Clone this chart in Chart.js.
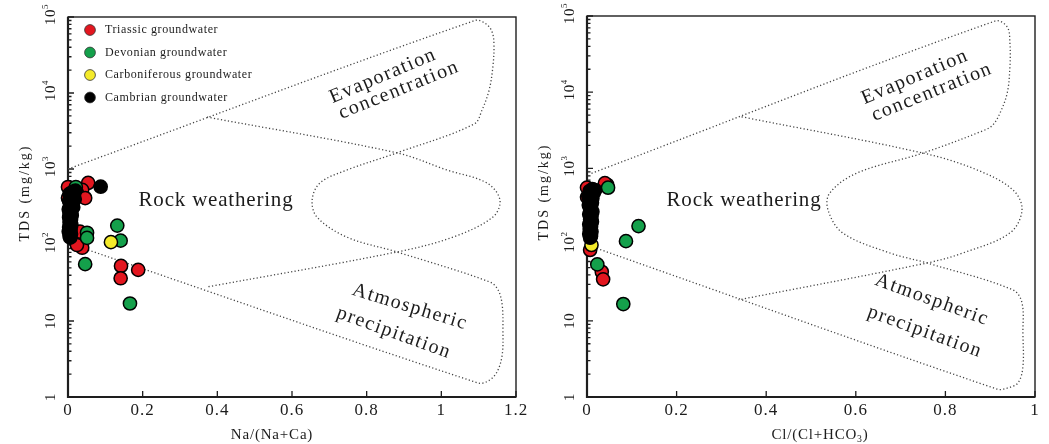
<!DOCTYPE html>
<html>
<head>
<meta charset="utf-8">
<script src="https://cdn.jsdelivr.net/npm/chart.js@4.4.0/dist/chart.umd.min.js"></script>
<style>
  html, body { margin: 0; padding: 0; background: #fff; }
  #wrap { position: relative; width: 1049px; height: 444px; }
  #wrap canvas { position: absolute; left: 0; top: 0; }
</style>
</head>
<body>
<div id="wrap">
  <canvas id="naChart" width="1049" height="444"></canvas>
  <canvas id="clChart" width="1049" height="444"></canvas>
</div>
<script>
// Series names and colours
const legendNames = ['Triassic groundwater', 'Devonian groundwater', 'Carboniferous groundwater', 'Cambrian groundwater'];
const seriesColors = ['#e3161f', '#14a04b', '#f4ea2a', '#000000'];

// Left panel: [Na/(Na+Ca), TDS mg/kg]
const triassicNa = [[0.054, 655], [0.038, 530], [0.0, 580], [0.024, 483], [0.046, 415], [0.0, 415],
  [0.032, 150], [0.038, 92], [0.024, 100], [0.142, 53], [0.141, 36.5], [0.188, 47]];
const devonianNa = [[0.021, 580], [0.051, 145], [0.051, 124], [0.046, 56], [0.132, 180], [0.141, 114], [0.166, 17]];
const carboniferousNa = [[0.115, 109]];
const cambrianNa = [[0.0875, 585], [0.02, 520], [0.012, 500], [0.004, 470], [0.016, 450], [0.008, 420], [0.018, 400],
  [0.003, 380], [0.012, 360], [0.006, 335], [0.014, 315], [0.002, 295], [0.009, 280], [0.004, 260], [0.01, 245],
  [0.003, 230], [0.008, 215], [0.004, 200], [0.009, 185], [0.003, 172], [0.007, 160], [0.002, 150], [0.008, 140],
  [0.004, 132], [0.006, 125]];

// Right panel: [Cl/(Cl+HCO3), TDS mg/kg]
const triassicCl = [[0.045, 610], [0.04, 640], [0.0, 420], [0.0, 560], [0.007, 85], [0.033, 44], [0.036, 35]];
const devonianCl = [[0.047, 558], [0.115, 175], [0.087, 111], [0.023, 55], [0.081, 16.6]];
const carboniferousCl = [[0.01, 99]];
const cambrianCl = [[0.012, 535], [0.018, 520], [0.006, 505], [0.015, 480], [0.009, 455], [0.003, 430], [0.012, 405],
  [0.006, 380], [0.011, 355], [0.004, 330], [0.009, 310], [0.007, 290], [0.012, 270], [0.005, 250], [0.01, 232],
  [0.007, 215], [0.011, 200], [0.005, 185], [0.009, 172], [0.006, 160], [0.01, 148], [0.005, 138], [0.009, 130],
  [0.007, 123]];

// Gibbs boomerang boundaries (dotted)
const naOuterLine = [[0, 1000], [1.090, 90000], [1.120, 80900], [1.136, 63500], [1.141, 42900], [1.138, 22000],
  [1.128, 10900], [1.109, 5970], [1.088, 3910], [0.881, 1630], [0.747, 970], [0.675, 655], [0.654, 391],
  [0.667, 233], [0.747, 127], [0.881, 81], [1.130, 32.6], [1.152, 25.6], [1.163, 16.3], [1.165, 7.6],
  [1.163, 3.57], [1.149, 2.13], [1.125, 1.62], [1.098, 1.53], [0, 106]];
const naInnerLine = [[0.372, 4830], [0.881, 1630], [1.015, 970], [1.122, 655], [1.157, 391], [1.138, 233],
  [1.031, 127], [0.881, 81], [0.372, 28]];
const clOuterLine = [[0.01, 860], [0.911, 86000], [0.938, 71800], [0.944, 44200], [0.944, 21400], [0.938, 9770],
  [0.922, 5340], [0.906, 3720], [0.888, 3190], [0.750, 1590], [0.603, 871], [0.542, 476], [0.538, 284],
  [0.571, 142], [0.676, 77.6], [0.759, 57.4], [0.951, 25.4], [0.971, 17.1], [0.973, 6.9], [0.973, 2.48],
  [0.962, 1.53], [0.938, 1.31], [0.915, 1.27], [0.02, 90]];
const clInnerLine = [[0.345, 4760], [0.750, 1590], [0.871, 953], [0.951, 521], [0.971, 284], [0.944, 142],
  [0.839, 77.6], [0.759, 57.4], [0.338, 18.8]];

// Axis ticks
const xTicksNa = [0, 0.2, 0.4, 0.6, 0.8, 1, 1.2];
const xTicksCl = [0, 0.2, 0.4, 0.6, 0.8, 1];
const tdsTicks = [1, 10, 100, 1000, 10000, 100000];
const tdsTickLabels = [['1', ''], ['10', ''], ['10', '2'], ['10', '3'], ['10', '4'], ['10', '5']];

// Axis titles ([text, is subscript])
const naTitle = [['Na/(Na+Ca)', false]];
const clTitle = [['Cl/(Cl+HCO', false], ['3', true], [')', false]];
const tdsTitle = 'TDS (mg/kg)';

const FONT = '"Liberation Serif", "Times New Roman", serif';
const INK = '#1c1c1c';

function toPoints(arr) {
    return arr.map(p => ({ x: p[0], y: p[1] }));
}

function drawText(ctx, text, x, y, size, angle, spacing, align) {
    ctx.save();
    ctx.translate(x, y);
    ctx.rotate((angle || 0) * Math.PI / 180);
    ctx.font = size + 'px ' + FONT;
    ctx.letterSpacing = (spacing || 0) + 'px';
    ctx.fillStyle = INK;
    ctx.textAlign = align || 'center';
    ctx.textBaseline = 'middle';
    ctx.fillText(text, 0, 0);
    ctx.restore();
}

// Draw text made of normal + subscript parts, centred on cx
function drawSubText(ctx, parts, cx, cy, size, spacing) {
    ctx.save();
    ctx.fillStyle = INK;
    ctx.textBaseline = 'middle';
    ctx.letterSpacing = spacing + 'px';
    let total = 0;
    parts.forEach(p => {
        ctx.font = (p[1] ? size * 0.65 : size) + 'px ' + FONT;
        total += ctx.measureText(p[0]).width;
    });
    let x = cx - total / 2;
    parts.forEach(p => {
        ctx.font = (p[1] ? size * 0.65 : size) + 'px ' + FONT;
        ctx.fillText(p[0], x, p[1] ? cy + 4 : cy);
        x += ctx.measureText(p[0]).width;
    });
    ctx.restore();
}

// Rotated y tick label like 10^3
function drawPowerLabel(ctx, x, y, base, exp) {
    ctx.save();
    ctx.translate(x, y);
    ctx.rotate(-Math.PI / 2);
    ctx.fillStyle = INK;
    ctx.textBaseline = 'alphabetic';
    ctx.font = '15px ' + FONT;
    ctx.letterSpacing = '0.5px';
    const w = ctx.measureText(base).width;
    ctx.fillText(base, -w / 2, 0);
    if (exp) {
        ctx.font = '9px ' + FONT;
        ctx.fillText(exp, w / 2, -7);
    }
    ctx.restore();
}

const gibbsFrame = {
    id: 'gibbsFrame',
    beforeDatasetsDraw(chart, args, opts) {
        const { ctx, chartArea: a, scales: { x, y } } = chart;
        ctx.save();
        ctx.strokeStyle = '#1e1e1e';

        // box
        ctx.lineWidth = 1.4;
        ctx.strokeRect(a.left, a.top, a.right - a.left, a.bottom - a.top);
        ctx.lineWidth = 2.2;
        ctx.beginPath();
        ctx.moveTo(a.left, a.top);
        ctx.lineTo(a.left, a.bottom);
        ctx.lineTo(a.right, a.bottom);
        ctx.stroke();

        // y ticks (log, inside)
        ctx.lineWidth = 1.3;
        ctx.beginPath();
        tdsTicks.forEach(t => {
            const py = y.getPixelForValue(t);
            ctx.moveTo(a.left, py);
            ctx.lineTo(a.left + 6, py);
        });
        for (let k = 0; k < 5; k++) {
            for (let m = 2; m <= 9; m++) {
                const py = y.getPixelForValue(m * Math.pow(10, k));
                ctx.moveTo(a.left, py);
                ctx.lineTo(a.left + 3.5, py);
            }
        }
        // x ticks (inside)
        opts.xTicks.forEach(t => {
            const px = x.getPixelForValue(t);
            ctx.moveTo(px, a.bottom);
            ctx.lineTo(px, a.bottom - 6);
        });
        ctx.stroke();
        ctx.restore();

        // tick labels
        opts.xTicks.forEach(t => {
            drawText(ctx, String(t), x.getPixelForValue(t), a.bottom + 14, 17, 0, 1);
        });
        tdsTicks.forEach((t, i) => {
            drawPowerLabel(ctx, a.left - 13, y.getPixelForValue(t), tdsTickLabels[i][0], tdsTickLabels[i][1]);
        });

        // axis titles
        drawText(ctx, tdsTitle, a.left - 43, a.top + 176, 14, -90, 2);
        drawSubText(ctx, opts.xTitle, opts.xTitleX, a.bottom + 38, 15, 0.8);

        // region names
        opts.regions.forEach(r => {
            drawText(ctx, r[0], a.left + r[1], a.top + r[2], r[4], r[3], r[5]);
        });
    },
    afterDatasetsDraw(chart, args, opts) {
        if (!opts.legend) return;
        const { ctx, chartArea: a } = chart;
        legendNames.forEach((name, i) => {
            const cy = a.top + 13 + i * 22.5;
            ctx.save();
            ctx.beginPath();
            ctx.arc(a.left + 22, cy, 5.4, 0, Math.PI * 2);
            ctx.fillStyle = seriesColors[i];
            ctx.fill();
            ctx.lineWidth = 0.8;
            ctx.strokeStyle = '#333';
            ctx.stroke();
            ctx.restore();
            drawText(ctx, name, a.left + 37, cy, 12, 0, 0.6, 'left');
        });
    }
};

function scatterSet(points, i) {
    return {
        type: 'scatter',
        label: legendNames[i],
        data: toPoints(points),
        backgroundColor: seriesColors[i],
        borderColor: '#000',
        pointRadius: 6.6,
        pointBorderWidth: 1.5,
        clip: false,
        order: 4 - i
    };
}

function boundarySet(points) {
    return {
        type: 'line',
        data: toPoints(points),
        borderColor: '#444',
        borderWidth: 1.3,
        borderDash: [1.2, 2.3],
        pointRadius: 0,
        tension: 0.35,
        fill: false,
        order: 10
    };
}

function makeGibbs(canvasId, cfg) {
    return new Chart(document.getElementById(canvasId), {
        type: 'scatter',
        data: {
            datasets: [
                scatterSet(cfg.series[0], 0),
                scatterSet(cfg.series[1], 1),
                scatterSet(cfg.series[2], 2),
                scatterSet(cfg.series[3], 3),
                boundarySet(cfg.outer),
                boundarySet(cfg.inner)
            ]
        },
        options: {
            responsive: false,
            animation: false,
            events: [],
            layout: { padding: cfg.padding },
            plugins: {
                legend: { display: false },
                tooltip: { enabled: false },
                gibbsFrame: {
                    xTicks: cfg.xTicks,
                    xTitle: cfg.xTitle,
                    xTitleX: cfg.xTitleX,
                    regions: cfg.regions,
                    legend: cfg.legend
                }
            },
            scales: {
                x: { type: 'linear', display: false, min: 0, max: cfg.xMax },
                y: { type: 'logarithmic', display: false, min: 1, max: 100000 }
            }
        },
        plugins: [gibbsFrame]
    });
}

// Left panel
makeGibbs('naChart', {
    series: [triassicNa, devonianNa, carboniferousNa, cambrianNa],
    outer: naOuterLine,
    inner: naInnerLine,
    xMax: 1.2,
    xTicks: xTicksNa,
    xTitle: naTitle,
    xTitleX: 272,
    padding: { left: 68, right: 533, top: 17, bottom: 47 },
    legend: true,
    regions: [
        // text, dx, dy, angle, size, spacing
        ['Evaporation', 315, 59, -23, 20, 1.5],
        ['concentration', 331, 73, -22, 20, 1.5],
        ['Rock weathering', 148, 183, 0, 21, 0.8],
        ['Atmospheric', 342, 290, 17, 20, 1.5],
        ['precipitation', 326, 316, 20, 20, 1.5]
    ]
});

// Right panel
makeGibbs('clChart', {
    series: [triassicCl, devonianCl, carboniferousCl, cambrianCl],
    outer: clOuterLine,
    inner: clInnerLine,
    xMax: 1,
    xTicks: xTicksCl,
    xTitle: clTitle,
    xTitleX: 820,
    padding: { left: 587, right: 14, top: 16, bottom: 47 },
    legend: false,
    regions: [
        ['Evaporation', 328, 61, -23, 20, 1.5],
        ['concentration', 345, 76, -22, 20, 1.5],
        ['Rock weathering', 157, 184, 0, 21, 0.8],
        ['Atmospheric', 345, 284, 20, 20, 1.5],
        ['precipitation', 338, 316, 20, 20, 1.5]
    ]
});
</script>
</body>
</html>
